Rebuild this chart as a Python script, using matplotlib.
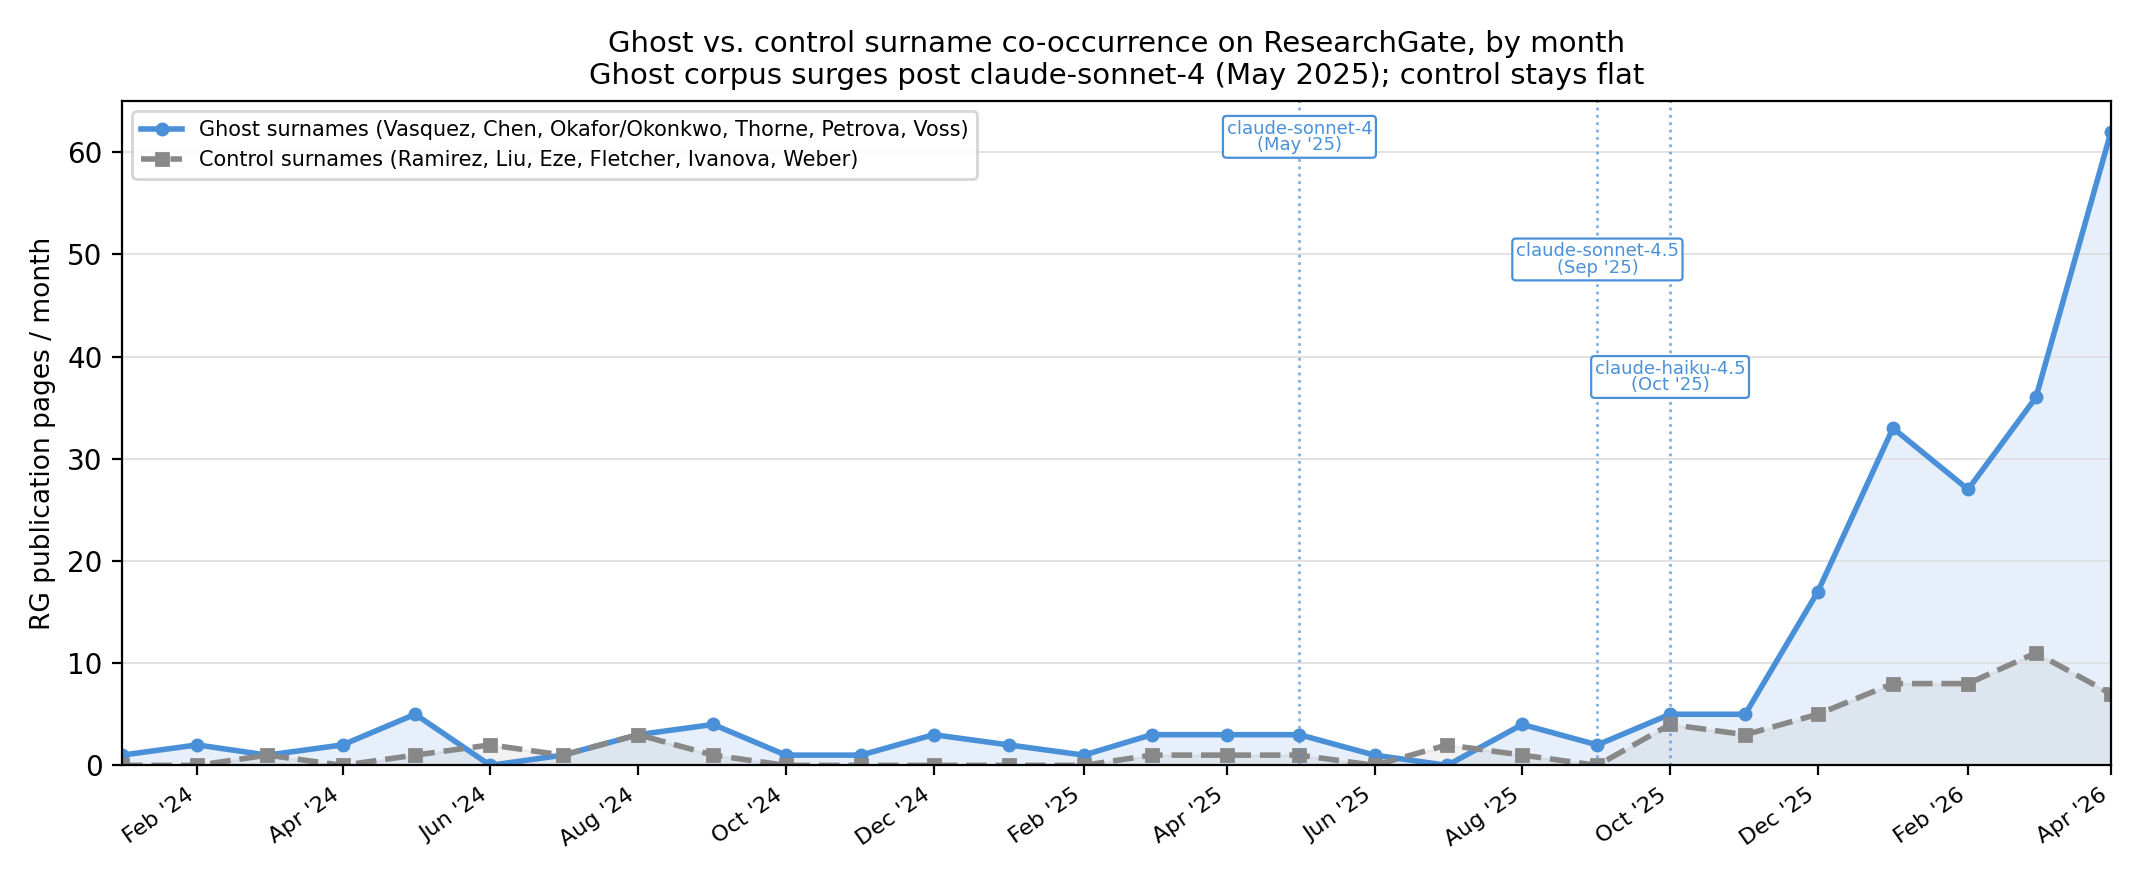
import matplotlib
matplotlib.use("Agg")
import matplotlib.pyplot as plt
import matplotlib.dates as mdates
import pandas as pd

months = pd.date_range("2024-01-01", "2026-04-01", freq="MS")
ghost = [1,2,1,2,5,0,1,3,4,1,1,3,2,1,3,3,3,1,0,4,2,5,5,17,33,27,36,62]
control = [0,0,1,0,1,2,1,3,1,0,0,0,0,0,1,1,1,0,2,1,0,4,3,5,8,8,11,7]
events = [("claude-sonnet-4\n(May '25)", "2025-05-01", 61.5),
          ("claude-sonnet-4.5\n(Sep '25)", "2025-09-01", 49.5),
          ("claude-haiku-4.5\n(Oct '25)", "2025-10-01", 38)]

blue = "#4a90d9"; grey = "#888888"
fig, ax = plt.subplots(figsize=(10.705, 4.4), dpi=200)
ax.fill_between(months, ghost, color=blue, alpha=0.13)
ax.fill_between(months, control, color=grey, alpha=0.1)
ax.plot(months, ghost, "-o", color=blue, lw=2, ms=4,
        label="Ghost surnames (Vasquez, Chen, Okafor/Okonkwo, Thorne, Petrova, Voss)")
ax.plot(months, control, "--s", color=grey, lw=2, ms=4,
        label="Control surnames (Ramirez, Liu, Eze, Fletcher, Ivanova, Weber)")
for lab, d, y in events:
    d = pd.Timestamp(d)
    ax.axvline(d, color=blue, ls=":", lw=1, alpha=0.7)
    ax.text(d, y, lab, ha="center", va="center", fontsize=6.5, color=blue, linespacing=0.9,
            bbox=dict(boxstyle="round,pad=0.2", fc="white", ec=blue, lw=0.8))
ax.set_xlim(months[0], months[-1])
ax.set_ylim(0, 65)
ax.xaxis.set_major_locator(mdates.MonthLocator(bymonth=[2,4,6,8,10,12]))
ax.xaxis.set_major_formatter(mdates.DateFormatter("%b '%y"))
plt.setp(ax.get_xticklabels(), rotation=35, ha="right", fontsize=8)
ax.tick_params(axis="y", labelsize=10)
ax.grid(axis="y", color="#dddddd", lw=0.6)
ax.set_ylabel("RG publication pages / month", fontsize=9.5)
ax.set_title("Ghost vs. control surname co-occurrence on ResearchGate, by month\n"
             "Ghost corpus surges post claude-sonnet-4 (May 2025); control stays flat", fontsize=10.5)
ax.legend(loc="upper left", fontsize=7.5)
fig.tight_layout()
fig.savefig("out.png")
